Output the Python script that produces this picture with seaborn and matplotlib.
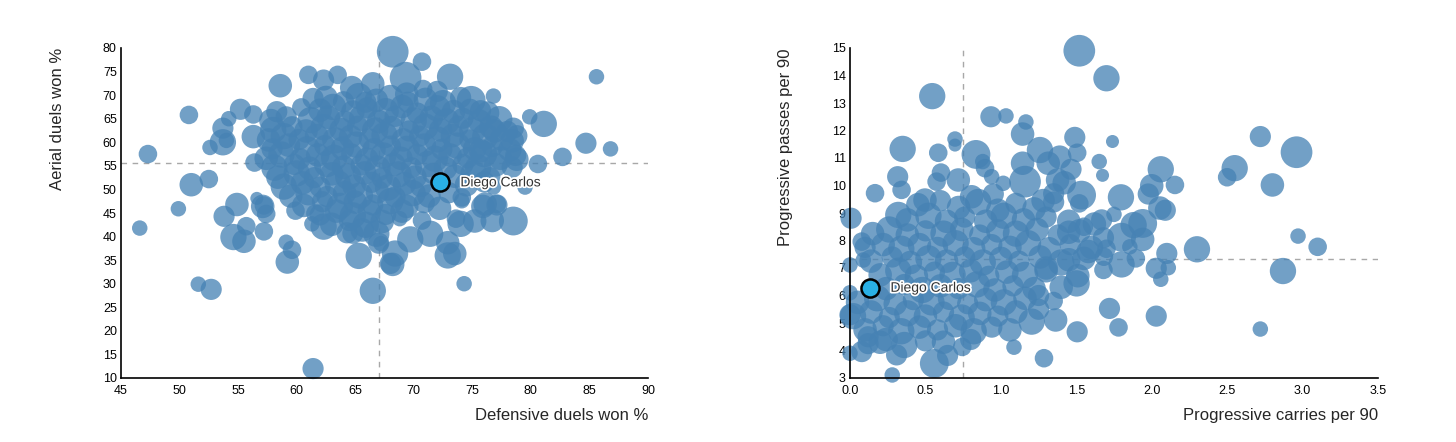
import matplotlib
matplotlib.use("Agg")
import pandas as pd
from matplotlib import pyplot as plt
from matplotlib import font_manager
import matplotlib.patheffects as pe
import seaborn as sns

# ---- left panel: defensive duels won % vs aerial duels won % ----
# scattered players around the cloud
def_outer_x = [47.3, 50.8, 51.0, 52.5, 49.9, 52.6, 53.7, 54.0, 53.7, 54.2,
               55.2, 56.3, 56.3, 56.4, 54.9, 56.6, 57.2, 58.6, 61.0, 62.3,
               63.5, 61.4, 64.7, 66.5, 65.9, 68.2, 70.7, 69.3, 73.1, 72.0,
               70.8, 69.4, 74.9, 76.8, 75.7, 79.9, 81.1, 76.9, 78.5, 78.4,
               78.8, 80.6, 82.7, 84.7, 86.8, 85.6, 74.1, 76.1, 77.1, 79.5,
               76.8, 75.7, 46.6, 53.8, 54.6, 55.5, 55.7, 57.2, 59.1, 59.6,
               59.2, 51.6, 52.7, 61.4, 66.5, 65.3, 67.0, 62.3, 61.3, 57.4,
               57.1, 59.9, 61.6, 64.8, 68.0, 78.5, 76.7, 75.2, 74.0, 73.6,
               75.9, 77.1, 71.4, 69.7, 70.7, 68.8, 72.9, 72.9, 73.5, 68.4,
               68.2, 74.3, 67.2, 72.2, 74.1]
aer_outer_y = [57.5, 65.8, 51.0, 52.2, 45.9, 58.9, 60.0, 60.4, 63.0, 65.0,
               67.0, 65.9, 61.2, 55.7, 46.8, 48.1, 46.6, 72.0, 74.3, 73.2,
               74.3, 69.3, 71.6, 72.4, 68.5, 79.2, 77.1, 73.7, 73.9, 70.8,
               71.3, 70.2, 68.9, 69.8, 66.7, 65.4, 63.9, 62.4, 63.0, 60.3,
               56.4, 55.4, 56.9, 59.8, 58.6, 73.9, 48.3, 46.9, 46.9, 50.5,
               50.5, 58.2, 41.8, 44.3, 39.9, 39.0, 42.2, 41.1, 38.8, 37.2,
               34.6, 29.9, 28.8, 12.0, 28.5, 35.9, 38.6, 42.1, 42.7, 44.8,
               46.4, 45.5, 44.9, 40.7, 34.3, 43.3, 43.4, 43.3, 42.7, 43.8,
               46.4, 46.7, 40.6, 39.4, 43.4, 43.8, 38.7, 36.0, 36.4, 36.4,
               34.1, 30.0, 38.5, 46.0, 47.6]
left_outer_min = [1000, 1000, 1600, 1000, 700, 700, 2000, 700, 1300, 700,
                  1300, 1000, 1600, 1000, 1600, 500, 1000, 1600, 1000, 1300,
                  1000, 1300, 1600, 1600, 1300, 2900, 1000, 2900, 2000, 1300,
                  1000, 1600, 2400, 700, 1300, 700, 2000, 1600, 1300, 1600,
                  1600, 1000, 1000, 1300, 700, 700, 1000, 1600, 1000, 700,
                  700, 1600, 700, 1300, 2000, 1600, 1000, 1000, 700, 1000,
                  1600, 700, 1300, 1300, 2000, 2000, 1300, 2000, 700, 1000,
                  1600, 1000, 1000, 1300, 1300, 2400, 1600, 1600, 2000, 1000,
                  1600, 1300, 2000, 2000, 1000, 700, 1600, 2000, 1600, 2000,
                  1600, 700, 700, 1600, 700]

# the dense middle of the cloud, read row by row from the top
def_core_x = [62.5, 64.0, 65.3, 66.8, 68.0, 69.5, 71.0, 72.5, 74.0,
              58.3, 60.4, 62.0, 63.1, 64.8, 66.0, 67.6, 69.0, 70.3, 72.0, 73.4, 74.8, 76.3,
              57.8, 59.1, 61.2, 62.7, 64.1, 65.6, 67.0, 68.4, 70.0, 71.5, 72.8, 74.2, 75.6, 77.3,
              58.0, 59.6, 60.8, 62.3, 63.8, 65.2, 66.7, 68.1, 69.6, 71.0, 72.3, 73.8, 75.0, 76.6, 78.0,
              57.6, 58.9, 60.2, 61.7, 63.3, 64.6, 66.2, 67.5, 69.1, 70.5, 72.0, 73.3, 74.8, 76.1, 77.5, 78.8,
              57.9, 59.3, 60.9, 62.4, 63.9, 65.1, 66.6, 68.0, 69.4, 70.9, 72.4, 73.7, 75.2, 76.7, 78.2,
              57.4, 58.7, 60.3, 61.8, 63.2, 64.7, 66.0, 67.4, 68.9, 70.3, 71.8, 73.1, 74.6, 76.0, 77.4, 78.7,
              58.1, 59.8, 61.1, 62.6, 64.0, 65.5, 66.9, 68.3, 69.8, 71.2, 72.7, 74.2, 75.5, 77.0, 78.4,
              58.4, 60.0, 61.5, 63.0, 64.4, 65.8, 67.3, 68.7, 70.1, 71.6, 73.5, 75.1, 76.5,
              58.9, 60.5, 62.0, 63.5, 64.9, 66.4, 67.8, 69.2, 70.6, 74.5, 76.0,
              59.5, 61.0, 62.6, 64.1, 65.4, 66.9, 68.4, 69.9, 71.3, 73.0,
              60.6, 62.2, 63.7, 65.0, 66.5, 68.0, 69.4, 70.9,
              62.0, 63.4, 64.8, 66.2, 67.6, 69.0,
              63.0, 64.5, 65.9, 67.3,
              64.3, 65.6, 66.8]
aer_core_y = [69.5, 68.6, 69.8, 68.9, 69.4, 68.5, 69.1, 68.3, 69.5,
              66.5, 67.4, 66.8, 67.5, 66.4, 67.3, 66.6, 67.6, 66.2, 67.2, 66.5, 67.0, 66.2,
              64.6, 65.4, 64.7, 65.3, 64.5, 65.2, 64.4, 65.5, 64.6, 65.3, 64.4, 65.1, 64.5, 64.9,
              62.6, 63.3, 62.4, 63.2, 62.7, 63.4, 62.5, 63.1, 62.4, 63.3, 62.6, 63.4, 62.5, 63.2, 62.3,
              60.5, 61.3, 60.6, 61.4, 60.4, 61.2, 60.7, 61.5, 60.5, 61.3, 60.6, 61.4, 60.5, 61.2, 60.7, 61.4,
              58.6, 59.4, 58.5, 59.3, 58.7, 59.5, 58.4, 59.2, 58.6, 59.4, 58.5, 59.3, 58.6, 59.1, 58.4,
              56.6, 57.4, 56.5, 57.3, 56.7, 57.5, 56.4, 57.2, 56.6, 57.4, 56.5, 57.3, 56.7, 57.5, 56.6, 57.2,
              54.6, 55.3, 54.5, 55.4, 54.7, 55.2, 54.4, 55.3, 54.6, 55.4, 54.5, 55.3, 54.6, 55.2, 54.7,
              52.6, 53.4, 52.5, 53.3, 52.7, 53.5, 52.4, 53.2, 52.6, 53.4, 52.8, 53.3, 52.5,
              50.6, 51.4, 50.5, 51.3, 50.7, 51.5, 50.4, 51.2, 50.6, 51.0, 51.6,
              48.6, 49.4, 48.5, 49.3, 48.7, 49.5, 48.4, 49.2, 48.6, 49.3,
              46.6, 47.4, 46.5, 47.3, 46.7, 47.5, 46.4, 47.2,
              44.6, 45.4, 44.5, 45.3, 44.7, 45.4,
              42.6, 43.4, 42.5, 43.2,
              40.8, 41.4, 40.6]
left_core_min = [1600, 1300, 2000, 1600, 2000, 1300, 1600, 2000, 1300,
                 1300, 1000, 1600, 2000, 1600, 1300, 2000, 1600, 1300, 2000, 1600, 1300, 1600,
                 1600, 1300, 2000, 1600, 1300, 2000, 1600, 1300, 2000, 1600, 2000, 1300, 1600, 2000,
                 2000, 1300, 1600, 2000, 1600, 1300, 2000, 1600, 1300, 2000, 1600, 1300, 2000, 1600, 1300,
                 1600, 2000, 1300, 1600, 2000, 1600, 1300, 2000, 1600, 1300, 2000, 1600, 1300, 2000, 1600, 1300,
                 1300, 1600, 2000, 1300, 1600, 2000, 1600, 1300, 2000, 1600, 1300, 2000, 1600, 1300, 1600,
                 1600, 2000, 1300, 1600, 2000, 1300, 1600, 2000, 1600, 1300, 2000, 1600, 1300, 2000, 1600, 1300,
                 2000, 1300, 1600, 2000, 1600, 1300, 2000, 1600, 1300, 2000, 1600, 1300, 2000, 1600, 1300,
                 1600, 2000, 1300, 1600, 2000, 1600, 1300, 2000, 1600, 1300, 1600, 2000, 1300,
                 2000, 1600, 1300, 2000, 1600, 1300, 2000, 1600, 1300, 1600, 1300,
                 1600, 2000, 1300, 1600, 2000, 1600, 1300, 2000, 1600, 1300,
                 1600, 1300, 2000, 1600, 1300, 2000, 1600, 1300,
                 1300, 1600, 2000, 1600, 1300, 1600,
                 1600, 1300, 2000, 1600,
                 1300, 1600, 2000]

# ---- right panel: progressive carries vs progressive passes per 90 ----
carry_outer_x = [1.52, 1.70, 0.545, 0.934, 1.034, 1.166, 1.144, 0.696, 0.696, 0.349,
                 0.585, 0.835, 0.88, 0.895, 1.259, 1.314, 1.39, 1.49, 1.506, 1.465,
                 1.652, 1.674, 1.74, 1.144, 1.16, 1.376, 1.535, 0.316, 0.342, 0.166,
                 0.603, 0.574, 0.718, 0.939, 1.016, 0.497, 0.95, 0.806, 2.72, 2.96,
                 2.55, 2.50, 2.80, 2.06, 2.00, 1.977, 2.154, 1.796, 2.054, 2.09,
                 2.97, 3.10, 2.87, 2.30, 2.72, 2.03, 1.78, 1.72, 2.10, 2.11,
                 2.03, 2.06, 1.94, 1.88, 1.80, 1.94, 1.80, 1.895, 1.855, 1.75,
                 1.683, 1.68, 1.68, 1.668, 0.559, 0.647, 0.744, 0.28, 1.286, 1.087,
                 1.506, 1.363, 1.204, 0.0, 0.309, 0.078, 0.0, 0.007, 0.32, 0.078,
                 0.088, 1.502, 1.51, 1.52, 1.55, 1.62, 1.45, 1.58, 1.35, 1.28,
                 1.42, 0.0, 0.0, 0.12, 0.20, 1.25, 1.35, 1.40, 1.30, 1.45,
                 1.70, 1.25]
pass_outer_y = [14.90, 13.90, 13.25, 12.50, 12.53, 12.31, 11.87, 11.69, 11.47, 11.33,
                11.19, 11.13, 10.87, 10.63, 11.29, 10.81, 11.03, 11.75, 11.19, 10.59,
                10.87, 10.37, 11.60, 10.81, 10.14, 10.20, 9.65, 10.32, 9.84, 9.72,
                10.47, 10.14, 10.20, 10.32, 10.08, 9.47, 9.69, 9.59, 11.78, 11.21,
                10.63, 10.30, 10.02, 10.59, 9.99, 9.69, 10.02, 9.57, 9.18, 9.10,
                8.16, 7.77, 6.89, 7.68, 4.78, 5.25, 4.84, 5.53, 7.53, 7.01,
                6.99, 6.59, 8.62, 8.56, 8.12, 8.04, 7.13, 7.35, 7.77, 8.95,
                7.41, 6.93, 8.10, 8.75, 3.53, 3.82, 4.13, 3.11, 3.72, 4.12,
                4.68, 5.11, 5.05, 3.90, 3.84, 3.96, 7.11, 8.81, 8.93, 7.96,
                7.29, 6.44, 6.72, 9.35, 8.50, 8.60, 8.30, 7.60, 9.70, 9.45,
                10.10, 6.10, 5.30, 4.50, 4.30, 6.00, 5.80, 6.30, 7.00, 7.30,
                7.70, 5.50]
right_outer_min = [2900, 2000, 2000, 1300, 700, 700, 1600, 700, 500, 2000,
                   1000, 2400, 700, 1000, 2000, 1600, 1600, 1300, 1000, 1300,
                   700, 500, 500, 1600, 2900, 1600, 2400, 1300, 1000, 1000,
                   1000, 1000, 1600, 700, 700, 1600, 1300, 1600, 1300, 2900,
                   2000, 1000, 1600, 2000, 1600, 1300, 1000, 2000, 1600, 1300,
                   700, 1000, 2000, 2000, 700, 1300, 1000, 1300, 1300, 700,
                   1300, 700, 2400, 2000, 2400, 1600, 2000, 1000, 700, 700,
                   1000, 1000, 1300, 1300, 2400, 1300, 1000, 700, 1000, 700,
                   1300, 1600, 2000, 700, 1300, 1300, 700, 1300, 2000, 1000,
                   700, 2000, 1600, 1000, 1000, 1600, 1600, 1600, 1300, 1600,
                   1600, 700, 1300, 1300, 1600, 1300, 1000, 1600, 1600, 1600,
                   1000, 1300]

carry_core_x = [0.45, 0.60, 0.72, 0.85, 0.98, 1.10, 1.22, 1.35,
                0.38, 0.52, 0.64, 0.76, 0.90, 1.02, 1.15, 1.30, 1.45,
                0.15, 0.26, 0.38, 0.50, 0.62, 0.74, 0.86, 0.98, 1.10, 1.24, 1.38, 1.52,
                0.10, 0.22, 0.34, 0.46, 0.58, 0.70, 0.82, 0.94, 1.06, 1.18, 1.32, 1.46, 1.60,
                0.14, 0.28, 0.40, 0.52, 0.64, 0.76, 0.88, 1.00, 1.12, 1.26, 1.40, 1.55,
                0.20, 0.32, 0.44, 0.56, 0.68, 0.80, 0.92, 1.04, 1.16, 1.30,
                0.24, 0.36, 0.48, 0.60, 0.72, 0.84, 0.96, 1.08, 1.22,
                0.05, 0.18, 0.30, 0.42, 0.54, 0.66, 0.78, 0.90, 1.02, 1.16,
                0.02, 0.14, 0.26, 0.38, 0.50, 0.62, 0.74, 0.86, 0.98, 1.10,
                0.10, 0.22, 0.34, 0.46, 0.58, 0.70, 0.82, 0.94, 1.06,
                0.12, 0.24, 0.36, 0.50, 0.62, 0.80]
pass_core_y = [9.30, 9.45, 9.20, 9.40, 9.10, 9.35, 9.15, 9.40,
               8.75, 8.90, 8.70, 8.85, 8.70, 8.90, 8.75, 8.85, 8.70,
               8.25, 8.40, 8.20, 8.35, 8.25, 8.40, 8.20, 8.35, 8.25, 8.40, 8.20, 8.35,
               7.75, 7.85, 7.70, 7.85, 7.75, 7.90, 7.70, 7.85, 7.75, 7.90, 7.70, 7.85, 7.75,
               7.25, 7.40, 7.20, 7.35, 7.25, 7.40, 7.20, 7.35, 7.25, 7.40, 7.20, 7.35,
               6.75, 6.90, 6.70, 6.85, 6.75, 6.90, 6.70, 6.85, 6.75, 6.90,
               6.25, 6.40, 6.20, 6.35, 6.25, 6.40, 6.20, 6.35, 6.25,
               5.75, 5.90, 5.70, 5.85, 5.75, 5.90, 5.70, 5.85, 5.75, 5.90,
               5.25, 5.40, 5.20, 5.35, 5.25, 5.40, 5.20, 5.35, 5.25, 5.40,
               4.75, 4.90, 4.70, 4.85, 4.75, 4.90, 4.70, 4.85, 4.75,
               4.25, 4.40, 4.20, 4.35, 4.30, 4.40]
right_core_min = [1600, 1300, 1600, 2000, 1600, 1300, 1600, 1300,
                  1600, 2000, 1600, 1300, 1600, 2000, 1600, 1300, 1600,
                  1600, 2000, 1600, 1300, 2000, 1600, 1300, 1600, 2000, 1600, 1300, 1600,
                  1300, 1600, 2000, 1600, 1300, 2000, 1600, 1300, 1600, 2000, 1600, 1300, 1600,
                  1600, 1300, 1600, 2000, 1600, 1300, 2000, 1600, 1300, 1600, 2000, 1600,
                  1600, 2000, 1600, 1300, 2000, 1600, 1300, 1600, 2000, 1600,
                  1600, 1300, 2000, 1600, 1300, 2000, 1600, 1300, 1600,
                  1600, 2000, 1600, 1300, 2000, 1600, 1300, 1600, 2000, 1600,
                  2000, 1600, 1300, 2000, 1600, 1300, 2000, 1600, 1300, 1600,
                  1600, 1300, 2000, 1600, 1300, 1600, 2000, 1300, 1600,
                  1300, 1600, 2000, 1300, 1600, 1300]

# highlighted player and league averages
player = "Diego Carlos"
player_left = (72.2, 51.5)
player_right = (0.13, 6.28)
avg_left = (67.0, 55.5)
avg_right = (0.75, 7.32)


def pick_font(names):
    """Return the first installed family from names."""
    for name in names:
        try:
            font_manager.findfont(font_manager.FontProperties(family=name),
                                  fallback_to_default=False)
            return name
        except ValueError:
            continue
    return "DejaVu Sans"


def build_frame(xs, ys, mins):
    assert len(xs) == len(ys) == len(mins), (len(xs), len(ys), len(mins))
    return pd.DataFrame({"x": xs, "y": ys, "minutes": mins})


def draw_panel(ax, df, avg, dot, xlim, ylim, xticks, yticks, xfmt, xlabel, ylabel, ypad):
    # league average guides sit behind the bubbles
    ax.axvline(avg[0], color="#a8a8a8", lw=1, ls=(0, (4, 4)), zorder=1)
    ax.axhline(avg[1], color="#a8a8a8", lw=1, ls=(0, (4, 4)), zorder=1)
    sns.scatterplot(data=df, x="x", y="y", size="minutes", sizes=(70, 540),
                    size_norm=(400, 3000), color="#4682b4", alpha=0.76,
                    linewidth=0, legend=False, ax=ax, zorder=2, clip_on=False)
    ax.scatter([dot[0]], [dot[1]], s=170, color="#29b0e6", edgecolor="black",
               linewidth=1.8, zorder=4, clip_on=False)
    ax.annotate(player, xy=dot, xytext=(15, 0), textcoords="offset points",
                ha="left", va="center", fontsize=10, color="#333333", zorder=5,
                path_effects=[pe.withStroke(linewidth=2.5, foreground="white")])

    ax.set_xlim(*xlim)
    ax.set_ylim(*ylim)
    ax.set_xticks(xticks)
    ax.set_yticks(yticks)
    ax.set_xticklabels([xfmt.format(v) for v in xticks], fontfamily=TICK_FONT, fontsize=TICK_SIZE)
    ax.set_yticklabels([str(v) for v in yticks], fontfamily=TICK_FONT, fontsize=TICK_SIZE)
    ax.tick_params(axis="y", length=0, pad=3, colors="black")
    ax.tick_params(axis="x", length=0, pad=5, colors="black")
    ax.set_xlabel(xlabel, loc="right", fontsize=12, labelpad=8)
    ax.set_ylabel(ylabel, loc="top", fontsize=12, labelpad=ypad)
    sns.despine(ax=ax)
    for side in ("left", "bottom"):
        ax.spines[side].set_color("black")
        ax.spines[side].set_linewidth(1.2)


sns.set_style("white")
LABEL_FONT = pick_font(["Liberation Sans", "Arimo", "DejaVu Sans"])
TICK_FONT = pick_font(["Liberation Sans Narrow", "DejaVu Sans Condensed", LABEL_FONT])
TICK_SIZE = 10 if "Narrow" in TICK_FONT or "Condensed" in TICK_FONT else 9
plt.rcParams["font.family"] = [LABEL_FONT, "DejaVu Sans"]

left_df = build_frame(def_outer_x + def_core_x, aer_outer_y + aer_core_y,
                      left_outer_min + left_core_min)
right_df = build_frame(carry_outer_x + carry_core_x, pass_outer_y + pass_core_y,
                       right_outer_min + right_core_min)

fig = plt.figure(figsize=(14.56, 4.42), dpi=100)
ax1 = fig.add_axes([121 / 1456, 1 - 378 / 442, 527 / 1456, 330 / 442])
ax2 = fig.add_axes([850 / 1456, 1 - 378 / 442, 528 / 1456, 330 / 442])

draw_panel(ax1, left_df, avg_left, player_left, (45, 90), (10, 80),
           list(range(45, 91, 5)), list(range(10, 81, 5)), "{}",
           "Defensive duels won %", "Aerial duels won %", 27)
draw_panel(ax2, right_df, avg_right, player_right, (0, 3.5), (3, 15),
           [0.0, 0.5, 1.0, 1.5, 2.0, 2.5, 3.0, 3.5], list(range(3, 16)), "{:.1f}",
           "Progressive carries per 90", "Progressive passes per 90", 28)

fig.savefig("out.png", dpi=100, facecolor="white")
